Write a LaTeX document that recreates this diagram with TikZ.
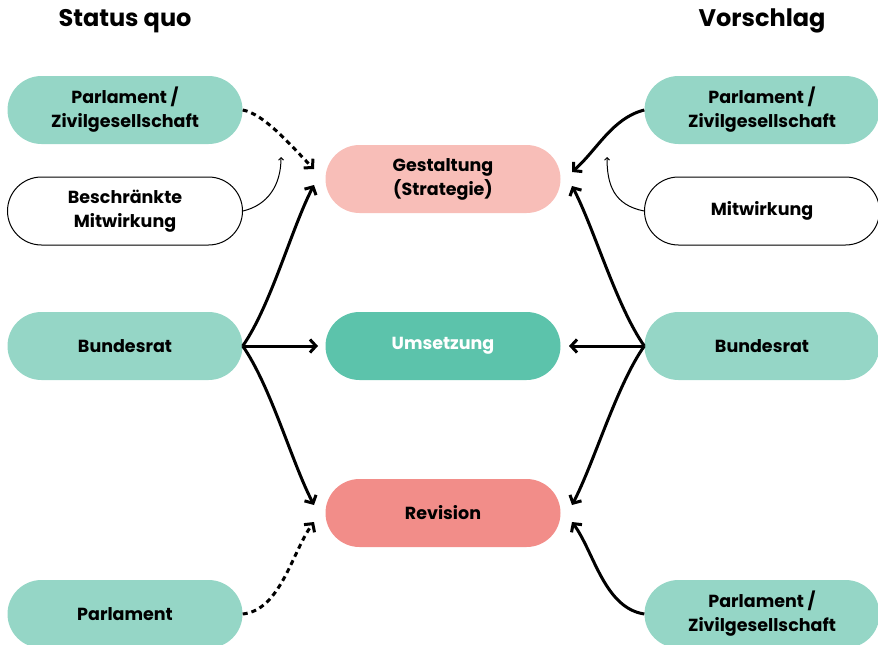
\documentclass[tikz,border=0pt]{standalone}
\usepackage{fontspec}
\setmainfont{Poppins}
\usepackage{tikz}
\usetikzlibrary{arrows.meta}
\usetikzlibrary{positioning}

\definecolor{mint}{HTML}{95D6C6}
\definecolor{rose}{HTML}{F8BEB8}
\definecolor{teal}{HTML}{5CC3AB}
\definecolor{salmon}{HTML}{F28D89}

\begin{document}
\begin{tikzpicture}[x=1pt,y=-1pt,
  every node/.style={font=\bfseries\fontsize{17.5}{24}\selectfont,align=center,
    minimum width=235pt,minimum height=68pt,rounded corners=34pt,inner sep=0pt},
  actor/.style={fill=mint},
  weak/.style={draw=black,line width=1pt,fill=white},
  link/.style={line width=3pt,-{Straight Barb[length=6pt,width=13pt]}},
  hint/.style={line width=1pt,-{Straight Barb[length=2.5pt,width=5pt]}},
  maybe/.style={link,dash pattern=on 5pt off 4pt},
  title/.style={font=\bfseries\fontsize{24}{28}\selectfont,fill=none,minimum height=0pt}]

  \useasboundingbox (0,0) rectangle (878,645);

  % titles
  \node[title] (sq) at (125,21) {Status quo};
  \node[title] (vs) at (762,21) {Vorschlag};

  % center
  \node[fill=rose]   (gest) at (443,179) {Gestaltung\\(Strategie)};
  \node[fill=teal,text=white] (ums) at (443,346) {Umsetzung};
  \node[fill=salmon] (rev)  at (443,513) {Revision};

  % status quo
  \node[actor] (lparl)  at (125,110) {Parlament /\\Zivilgesellschaft};
  \node[weak]  (lmitw)  at (125,211) {Beschränkte\\Mitwirkung};
  \node[actor] (lbr)    at (125,346) {Bundesrat};
  \node[actor] (lparlb) at (125,614) {Parlament};

  % vorschlag
  \node[actor] (rparl)  at (762,110) {Parlament /\\Zivilgesellschaft};
  \node[weak]  (rmitw)  at (762,211) {Mitwirkung};
  \node[actor] (rbr)    at (762,346) {Bundesrat};
  \node[actor] (rparlb) at (762,614) {Parlament /\\Zivilgesellschaft};

  % arrow ends
  \coordinate (lg1) at (314,169);
  \coordinate (lg2) at (314,185);
  \coordinate (lmh) at (281,157);
  \coordinate (lu)  at (318,346);
  \coordinate (lr1) at (314,505);
  \coordinate (lr2) at (314,522);
  \coordinate (rg1) at (572,172);
  \coordinate (rg2) at (572,186);
  \coordinate (rmh) at (607,157);
  \coordinate (ru)  at (569,346);
  \coordinate (rr1) at (572,505);
  \coordinate (rr2) at (572,522);

  % left arrows
  \draw[maybe] (lparl.east) .. controls +(22,4) and +(-22,-22) .. (lg1);
  \draw[hint] (lmitw.east) .. controls +(25,-6) and +(0,28) .. (lmh);
  \draw[link] (lbr.east) .. controls +(28,-40) and +(-22,42) .. (lg2);
  \draw[link] (lbr.east) -- (lu);
  \draw[link] (lbr.east) .. controls +(28,40) and +(-22,-42) .. (lr1);
  \draw[maybe] (lparlb.east) .. controls +(38,-4) and +(-22,30) .. (lr2);

  % right arrows
  \draw[link] (rparl.west) .. controls +(-32,8) and +(25,-22) .. (rg1);
  \draw[hint] (rmitw.west) .. controls +(-30,-6) and +(0,28) .. (rmh);
  \draw[link] (rbr.west) .. controls +(-28,-40) and +(22,42) .. (rg2);
  \draw[link] (rbr.west) -- (ru);
  \draw[link] (rbr.west) .. controls +(-28,40) and +(22,-42) .. (rr1);
  \draw[link] (rparlb.west) .. controls +(-40,-6) and +(22,30) .. (rr2);
\end{tikzpicture}
\end{document}
